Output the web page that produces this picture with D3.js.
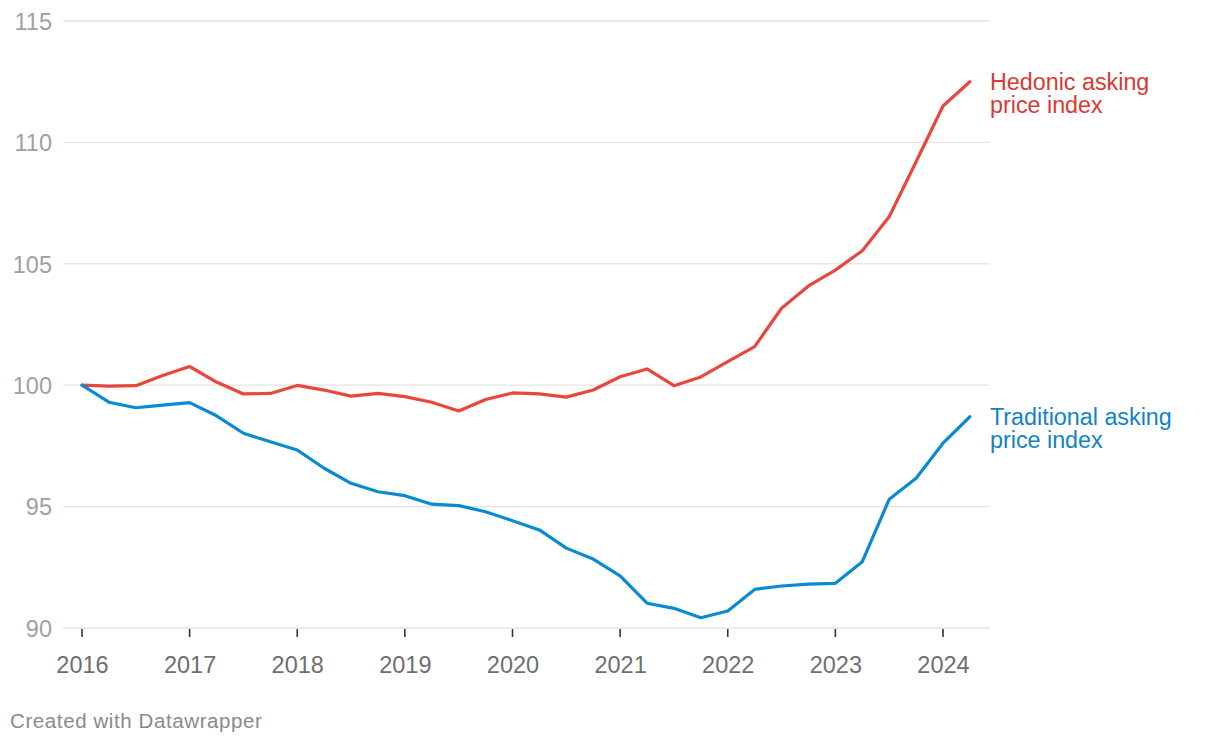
<!DOCTYPE html>
<html><head><meta charset="utf-8">
<script src="https://cdn.jsdelivr.net/npm/d3@7"></script>
<style>
body{margin:0;background:#fff;}
svg{display:block;font-family:"Liberation Sans",Arial,Helvetica,sans-serif;}
</style></head>
<body>
<svg id="chart" width="1220" height="746"></svg>
<script>
const quarters = [2016,2016.25,2016.5,2016.75,2017,2017.25,2017.5,2017.75,2018,2018.25,2018.5,2018.75,2019,2019.25,2019.5,2019.75,2020,2020.25,2020.5,2020.75,2021,2021.25,2021.5,2021.75,2022,2022.25,2022.5,2022.75,2023,2023.25,2023.5,2023.75,2024,2024.25];
const hedonic = [100,99.96,99.98,100.4,100.77,100.13,99.64,99.66,99.99,99.8,99.55,99.66,99.53,99.3,98.94,99.41,99.68,99.64,99.51,99.8,100.35,100.67,99.98,100.34,100.97,101.59,103.17,104.09,104.74,105.54,106.94,109.2,111.5,112.5];
const traditional = [100,99.3,99.07,99.18,99.28,98.74,98.02,97.67,97.33,96.58,95.96,95.61,95.45,95.1,95.04,94.79,94.42,94.04,93.29,92.84,92.15,91.02,90.81,90.42,90.7,91.59,91.73,91.81,91.84,92.73,95.3,96.17,97.61,98.7];
const yTicks = [90,95,100,105,110,115];
const xTicks = [2016,2017,2018,2019,2020,2021,2022,2023,2024];
const seriesNames = [["Hedonic asking","price index"],["Traditional asking","price index"]];

const svg = d3.select("#chart");
const x = d3.scaleLinear().domain([2016,2024]).range([82,943]);
const y = d3.scaleLinear().domain([90,115]).range([628,21]);

const g = svg.append("g");
yTicks.forEach(t=>{
  g.append("line").attr("x1",63).attr("x2",990).attr("y1",y(t)).attr("y2",y(t))
    .attr("stroke","#e3e3e3").attr("stroke-width",1.3);
  g.append("text").attr("x",52).attr("y",y(t)+8.8).attr("text-anchor","end")
    .attr("font-size",23.5).attr("fill","#a0a0a0").text(t);
});
xTicks.forEach(t=>{
  g.append("line").attr("x1",x(t)).attr("x2",x(t)).attr("y1",629).attr("y2",637)
    .attr("stroke","#333").attr("stroke-width",1.6);
  g.append("text").attr("x",x(t)+0.5).attr("y",672.5).attr("text-anchor","middle")
    .attr("font-size",23.5).attr("fill","#6e6e6e").text(t);
});

const line = d3.line().x((d,i)=>x(quarters[i])).y(d=>y(d));
const colors = ["#e8473e","#0a8ad0"];
const textColors = ["#d83a32","#1283c6"];
[hedonic, traditional].forEach((s,k)=>{
  svg.append("path").datum(s).attr("d",line).attr("fill","none")
    .attr("stroke",colors[k]).attr("stroke-width",3.2)
    .attr("stroke-linejoin","round").attr("stroke-linecap","round");
  const last = s[s.length-1];
  const t = svg.append("text").attr("x",990).attr("y",y(last)+7.8)
    .attr("font-size",23.3).attr("fill",textColors[k]);
  seriesNames[k].forEach((ln,j)=>{
    t.append("tspan").attr("x",990).attr("dy",j===0?0:23.8).text(ln);
  });
});

svg.append("text").attr("x",10).attr("y",727.5).attr("font-size",20.5)
  .attr("letter-spacing",0.6)
  .attr("fill","#8a8a8a").text("Created with Datawrapper");
</script>
</body></html>
